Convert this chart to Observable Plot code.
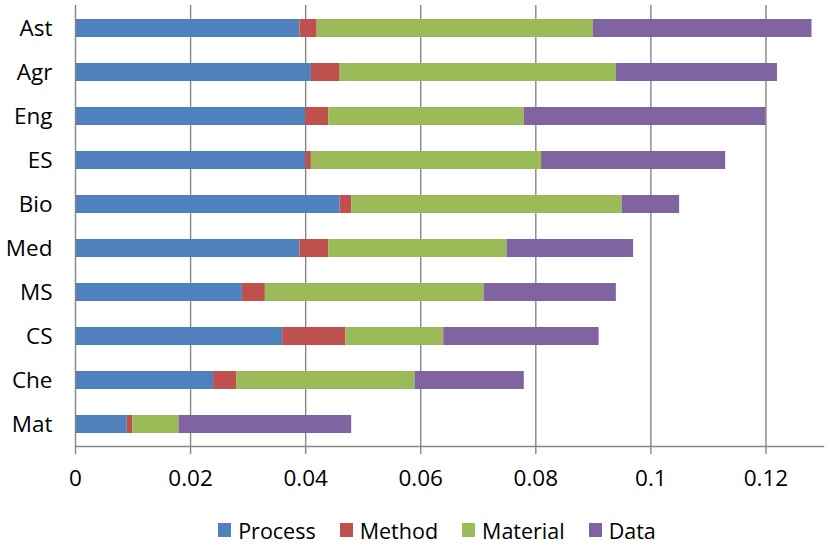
<!DOCTYPE html>
<html>
<head>
<meta charset="utf-8">
<script src="https://cdn.jsdelivr.net/npm/d3@7"></script>
<script src="https://cdn.jsdelivr.net/npm/@observablehq/plot@0.6"></script>
<style>
  html, body { margin: 0; padding: 0; background: #fff; }
  #legend { display: flex; justify-content: center; align-items: center; padding-left: 44px; padding-top: 7px; height: 46px;
    font-family: "Open Sans", sans-serif; font-size: 21.5px; color: #000; }
  .item { display: flex; align-items: center; margin: 0 12px; }
  .sw { width: 13px; height: 14px; margin-right: 7px; }
</style>
</head>
<body>
<div id="chart"></div>
<div id="legend"></div>
<script>
const categories = ["Ast", "Agr", "Eng", "ES", "Bio", "Med", "MS", "CS", "Che", "Mat"];
const seriesNames = ["Process", "Method", "Material", "Data"];
const processVals  = [0.039, 0.041, 0.040, 0.040, 0.046, 0.039, 0.029, 0.036, 0.024, 0.009];
const methodVals   = [0.003, 0.005, 0.004, 0.001, 0.002, 0.005, 0.004, 0.011, 0.004, 0.001];
const materialVals = [0.048, 0.048, 0.034, 0.040, 0.047, 0.031, 0.038, 0.017, 0.031, 0.008];
const dataVals     = [0.038, 0.028, 0.042, 0.032, 0.010, 0.022, 0.023, 0.027, 0.019, 0.030];
const xTicks = [0, 0.02, 0.04, 0.06, 0.08, 0.1, 0.12];
const colors = ["#4F81BD", "#C0504D", "#9BBB59", "#8064A2"];

const seriesVals = [processVals, methodVals, materialVals, dataVals];
const table = [];
categories.forEach((c, i) => {
  seriesNames.forEach((s, j) => table.push({cat: c, series: s, value: seriesVals[j][i]}));
});

const gridColor = "#868686";
const chart = Plot.plot({
  width: 830,
  height: 500,
  marginLeft: 75,
  marginRight: 7,
  marginTop: 5,
  marginBottom: 54,
  style: {fontFamily: "'Open Sans', sans-serif", fontSize: "22.5px", color: "#000", background: "#fff"},
  x: {domain: [0, 0.13]},
  y: {domain: categories, paddingInner: 0.6, paddingOuter: 0.3},
  color: {domain: seriesNames, range: colors},
  marks: [
    Plot.gridX(xTicks.filter(d => d > 0), {stroke: gridColor, strokeOpacity: 1, strokeWidth: 1.4}),
    Plot.barX(table, {x: "value", y: "cat", fill: "series"}),
    Plot.ruleX([0], {stroke: gridColor, strokeWidth: 1.4}),
    Plot.frame({anchor: "bottom", stroke: gridColor, strokeWidth: 1.4}),
    Plot.axisX({ticks: xTicks, tickFormat: d => String(d), tickSize: 8, tickPadding: 16,
      stroke: gridColor, strokeWidth: 1.4, strokeOpacity: 1, label: null, fill: "#000", fontSize: 22.5}),
    Plot.axisY({tickSize: 0, tickPadding: 23, label: null, fill: "#000", fontSize: 22.5})
  ]
});
document.getElementById("chart").appendChild(chart);

const legend = document.getElementById("legend");
seriesNames.forEach((s, i) => {
  const it = document.createElement("div");
  it.className = "item";
  const sw = document.createElement("div");
  sw.className = "sw";
  sw.style.background = colors[i];
  const t = document.createElement("span");
  t.textContent = s;
  it.appendChild(sw); it.appendChild(t);
  legend.appendChild(it);
});
</script>
</body>
</html>
